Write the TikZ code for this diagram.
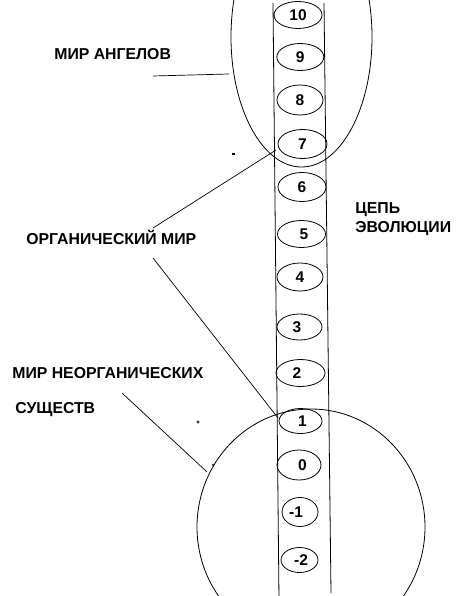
\documentclass[tikz,border=0pt]{standalone}
\usepackage{fontspec}
\setmainfont{Liberation Sans}[BoldFont={Liberation Sans Bold}]
\usetikzlibrary{shapes.geometric}
\begin{document}
\begin{tikzpicture}[x=1pt,y=-1pt,line width=0.8pt,
  lbl/.style={inner sep=0pt,font=\bfseries\fontsize{15.8}{19}\selectfont},
  num/.style={draw,ellipse,inner sep=0pt,line width=0.8pt,font=\bfseries\fontsize{15.5}{18}\selectfont},
  conn/.style={line width=0.7pt}]
\useasboundingbox (0,0) rectangle (465,596);
\clip (0,0) rectangle (465,596);
% column of the chain
\coordinate (colLt) at (273,3);
\coordinate (colLb) at (279,600);
\coordinate (colRt) at (324,3);
\coordinate (colRb) at (331,593);
\draw (colLt) -- (colLb);
\draw (colRt) -- (colRb);
% worlds
\coordinate (angc) at (301.5,37);
\draw (angc) ellipse [x radius=70.5pt, y radius=130pt];
\coordinate (inorgc) at (311,527);
\draw (inorgc) ellipse [x radius=114pt, y radius=118pt];
% numbered stages
\node[num,minimum width=48pt,minimum height=27pt] (n10) at (298,15) {10};
\node[num,minimum width=47pt,minimum height=27pt] (n9) at (300.3,57) {9};
\node[num,minimum width=46pt,minimum height=30pt] (n8) at (300,100) {8};
\node[num,minimum width=49pt,minimum height=29pt] (n7) at (302.5,144) {7};
\node[num,minimum width=48pt,minimum height=29pt] (n6) at (302,187) {6};
\node[num,minimum width=48pt,minimum height=27pt] (n5) at (301.5,234) {\hspace*{5pt}5};
\node[num,minimum width=46pt,minimum height=28pt] (n4) at (300,277) {4};
\node[num,minimum width=45pt,minimum height=26pt] (n3) at (299.5,327) {\hspace*{-5pt}3};
\node[num,minimum width=49pt,minimum height=27pt] (n2) at (300.5,373) {\hspace*{-7pt}2};
\node[num,minimum width=43pt,minimum height=25pt] (n1) at (300.5,421) {\hspace*{4pt}1};
\node[num,minimum width=44pt,minimum height=30pt] (n0) at (299,465) {\hspace*{7pt}0};
\node[num,minimum width=36pt,minimum height=29pt] (nm1) at (300,512) {\hspace*{-8pt}-1};
\node[num,minimum width=37pt,minimum height=25pt] (nm2) at (299.5,560) {\hspace*{3pt}-2};
% labels
\node[lbl,anchor=base west] (angels) at (54,60) {МИР АНГЕЛОВ};
\node[lbl,anchor=north west,align=left] (chain) at (355,202) {ЦЕПЬ\\ЭВОЛЮЦИИ};
\node[lbl,anchor=base west] (organic) at (26,244) {ОРГАНИЧЕСКИЙ МИР};
\node[lbl,anchor=base west] (inorg1) at (12,378) {МИР НЕОРГАНИЧЕСКИХ};
\node[lbl,anchor=base west] (inorg2) at (15,413) {СУЩЕСТВ};
% connectors
\coordinate (angA) at (153,76);
\coordinate (angB) at (229,74);
\draw[conn] (angA) -- (angB);
\coordinate (orgA) at (153,228);
\coordinate (orgB) at (276,150);
\draw[conn] (orgA) -- (orgB);
\coordinate (orgC) at (153,258);
\coordinate (orgD) at (278,418);
\draw[conn] (orgC) -- (orgD);
\coordinate (inA) at (122,393);
\coordinate (inB) at (207,472);
\draw[conn] (inA) -- (inB);
% small stray marks
\fill (231.5,153) rectangle (234.5,155);
\draw[line width=0.6pt] (198,422) circle [radius=1.3pt];
\fill (213,465) circle [radius=1.1pt];
\end{tikzpicture}
\end{document}
